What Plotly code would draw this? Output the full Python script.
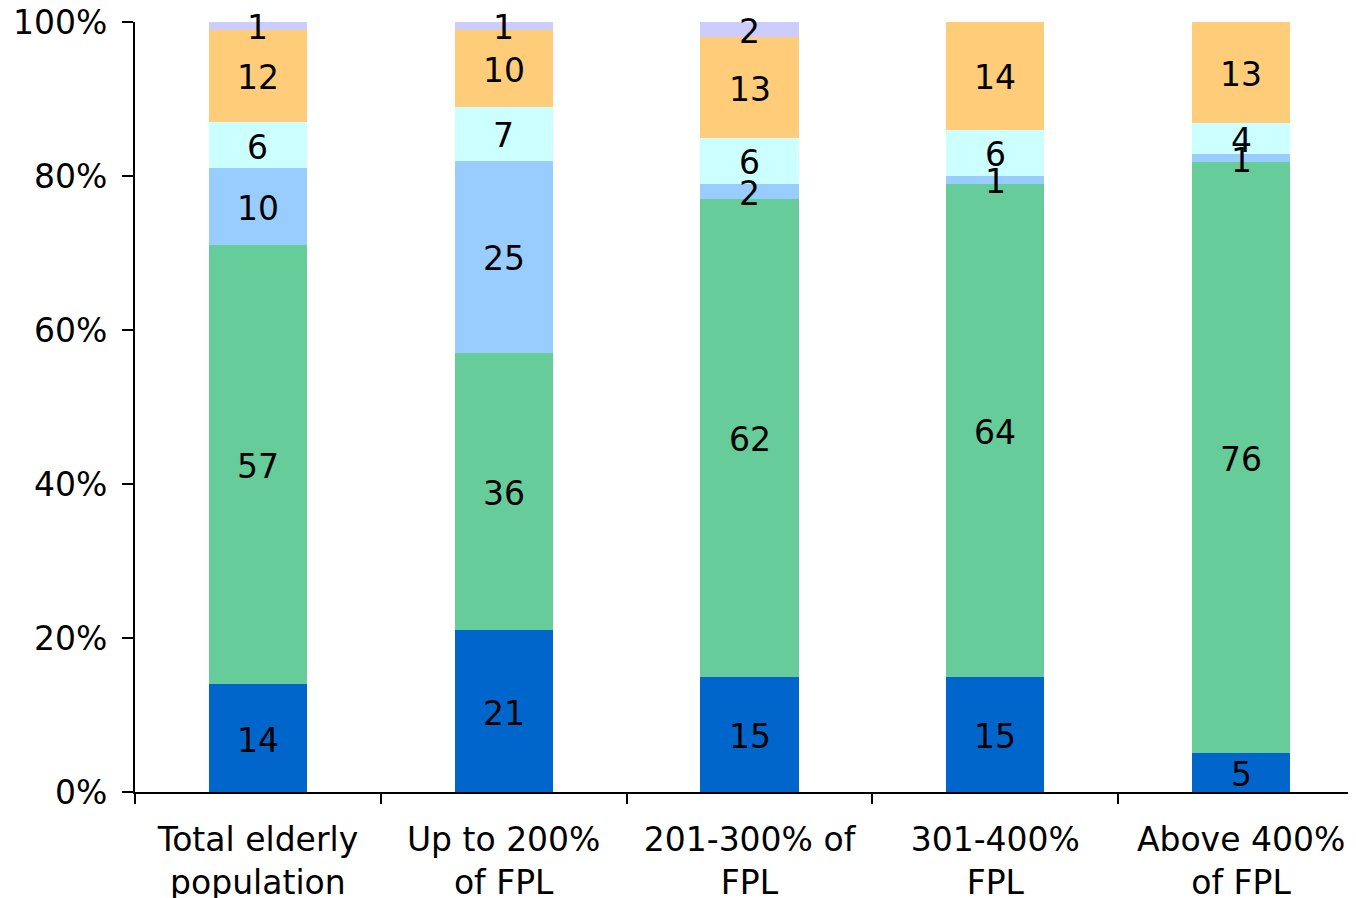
import plotly.graph_objects as go

categories = ["Total elderly<br>population", "Up to 200%<br>of FPL", "201-300% of<br>FPL",
              "301-400%<br>FPL", "Above 400%<br>of FPL"]

s1 = [14, 21, 15, 15, 5]      # dark blue (bottom)
s2 = [57, 36, 62, 64, 76]     # green
s3 = [10, 25, 2, 1, 1]        # light blue
s4 = [6, 7, 6, 6, 4]          # light cyan
s5 = [12, 10, 13, 14, 13]     # orange
s6 = [1, 1, 2, 0, 0]          # lavender (top)

y_ticks = [0, 20, 40, 60, 80, 100]
y_tick_labels = ["0%", "20%", "40%", "60%", "80%", "100%"]

series = [s1, s2, s3, s4, s5, s6]
colors = ["#0066CC", "#66CC99", "#99CCFF", "#CCFFFF", "#FFCC7A", "#CCCCFF"]

FONT = "DejaVu Sans, Verdana, sans-serif"
FS = 33

fig = go.Figure()
for vals, col in zip(series, colors):
    fig.add_trace(go.Bar(
        x=categories, y=vals,
        marker=dict(color=col, line=dict(width=0)),
        hoverinfo="skip",
    ))

# value labels centred in each stacked segment (stack normalised to 100%)
totals = [sum(col) for col in zip(*series)]
base = [0.0] * len(categories)
for vals in series:
    for j, v in enumerate(vals):
        pct = v / totals[j] * 100
        if v:
            fig.add_annotation(
                x=categories[j], y=base[j] + pct / 2, xref="x", yref="y",
                text=str(v), showarrow=False, yshift=-2,
                font=dict(family=FONT, size=FS, color="black"),
            )
        base[j] += pct

# the page body has an 8px margin; the figure is offset by it and runs past the window edge
fig.update_layout(
    width=1356, height=898,
    barmode="stack", barnorm="percent", bargap=0.6,
    margin=dict(l=127, r=0, t=14, b=114),
    plot_bgcolor="white", paper_bgcolor="white",
    showlegend=False,
    font=dict(family=FONT, size=FS, color="black"),
)
fig.update_xaxes(
    range=[-0.5, 4.5], showline=True, linecolor="black", linewidth=2,
    ticks="outside", tickson="boundaries", ticklen=10, tickwidth=2, tickcolor="black",
    showgrid=False, tickfont=dict(family=FONT, size=FS), automargin=False,
    ticklabelstandoff=17, ticklabeloverflow="allow",
)
fig.update_yaxes(
    range=[0, 100], tickvals=y_ticks, ticktext=y_tick_labels,
    showline=True, linecolor="black", linewidth=2,
    ticks="outside", ticklen=11, tickwidth=2, tickcolor="black",
    showgrid=False, zeroline=False, tickfont=dict(family=FONT, size=FS),
    automargin=False, ticklabelstandoff=8, ticklabeloverflow="allow",
)

fig.write_html("out.html")
